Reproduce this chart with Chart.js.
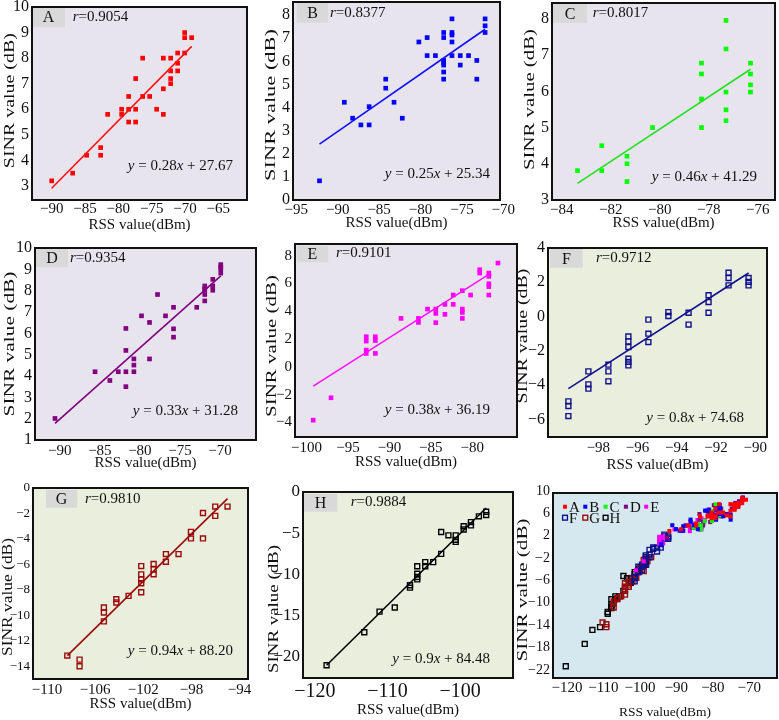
<!DOCTYPE html>
<html>
<head>
<meta charset="utf-8">
<script src="https://cdn.jsdelivr.net/npm/chart.js@4.4.1/dist/chart.umd.min.js"></script>
<style>
html,body{margin:0;padding:0;background:#fff;overflow:hidden;}
#wrap{position:relative;width:779px;height:720px;overflow:hidden;background:#fff;}
.pane{position:absolute;}
</style>
</head>
<body>
<div id="wrap"></div>
<script>
// ---------------- data ----------------

// A
const rssA  = [-90,-86.85,-84.75,-82.65,-82.65,-81.6,-79.5,-79.5,-78.45,-78.45,-78.45,-77.4,-77.4,-77.4,-76.35,-76.35,-75.3,-74.25,-73.25,-73.25,-73.25,-72.15,-72.15,-72.15,-72.15,-71.1,-71.1,-71.1,-70.05,-70.05,-70.05,-69];
const sinrA = [3.2,3.5,4.2,4.5,4.2,5.8,6.0,5.8,6.5,6.0,5.5,7.2,6.0,5.5,8.0,6.5,6.5,6.0,8.0,6.8,5.8,8.0,7.5,7.2,7.0,8.2,7.8,7.5,9.0,8.8,8.2,8.8];
const fitXA = [-90,-69];
const fitYA = [2.91,8.46];

// B
const rssB  = [-92.2,-89.2,-88.2,-87.2,-86.2,-86.2,-84.2,-84.2,-83.2,-82.2,-80.2,-79.2,-79.2,-78.2,-77.2,-77.2,-77.2,-77.2,-77.2,-77.2,-77.2,-76.2,-76.2,-76.2,-76.2,-76.2,-75.2,-75.2,-74.2,-73.2,-73.2,-72.2,-72.2,-72.2];
const sinrB = [0.83,4.23,3.54,3.25,3.25,4.04,5.23,4.84,4.23,3.54,6.84,7.03,6.25,6.25,7.25,7.03,6.04,5.94,5.84,5.54,5.23,7.84,7.25,7.14,6.84,6.25,6.25,5.84,6.25,6.04,5.23,7.84,7.54,7.25];
const fitXB = [-92.2,-72.2];
const fitYB = [2.42,7.39];

// C
const rssC  = [-83.36,-82.37,-82.37,-81.34,-81.34,-81.34,-80.3,-78.3,-78.3,-78.3,-78.3,-77.3,-77.3,-77.3,-77.3,-77.3,-76.3,-76.3,-76.3,-76.3];
const sinrC = [3.81,4.5,3.81,4.21,4.0,3.51,5.0,6.78,6.48,5.79,5.0,7.96,7.17,5.98,5.49,5.19,6.78,6.48,6.18,5.98];
const fitXC = [-83.36,-76.3];
const fitYC = [3.46,6.61];

// D
const rssD  = [-90.6,-85.6,-83.75,-82.7,-81.75,-81.75,-81.75,-81.75,-80.75,-80.75,-80.75,-79.8,-78.8,-78.8,-77.8,-76.8,-75.8,-75.8,-75.8,-72.9,-71.9,-71.9,-71.9,-71.9,-71.9,-70.9,-70.9,-70.9,-69.9,-69.9,-69.9,-69.9];
const sinrD = [2.01,4.2,3.79,4.2,6.23,5.2,4.2,3.5,4.8,4.51,4.2,6.82,6.51,4.8,7.82,6.82,7.22,6.21,5.82,7.22,8.22,8.1,8.02,7.82,7.52,8.53,8.22,8.02,9.22,9.1,9.02,8.82];
const fitXD = [-90.6,-69.9];
const fitYD = [1.78,8.69];

// E
const rssE  = [-99.2,-97.05,-92.8,-92.8,-92.8,-92.8,-91.7,-91.7,-91.7,-88.6,-86.5,-86.5,-85.4,-84.4,-84.4,-84.4,-83.3,-83.3,-82.3,-82.3,-81.2,-81.2,-81.2,-81.2,-80.2,-79.1,-79.1,-78.0,-78.0,-78.0,-78.0,-78.0,-76.9];
const sinrE = [-3.83,-2.22,2.17,1.86,1.21,0.97,2.17,1.9,0.97,3.49,3.49,3.2,4.16,4.16,3.85,3.18,4.5,3.78,5.17,4.5,5.48,4.16,3.92,3.49,5.17,6.99,6.75,6.75,6.51,5.98,5.77,5.17,7.47];
const fitXE = [-99.2,-78.0];
const fitYE = [-1.38,6.66];

// F
const rssF  = [-99.53,-99.53,-99.53,-98.51,-98.51,-98.51,-97.49,-97.49,-97.49,-96.47,-96.47,-96.47,-96.47,-96.47,-96.47,-95.45,-95.45,-95.45,-94.43,-94.43,-93.4,-93.4,-92.38,-92.38,-92.38,-91.36,-91.36,-91.36,-90.34,-90.34,-90.34];
const sinrF = [-4.95,-5.22,-5.81,-3.2,-3.96,-4.21,-2.81,-3.2,-3.78,-1.16,-1.45,-1.78,-2.46,-2.65,-2.85,-0.18,-1.0,-1.49,0.26,0.03,0.22,-0.47,1.24,0.85,0.22,2.56,2.25,1.82,2.25,2.02,1.82];
const fitXF = [-99.53,-90.34];
const fitYF = [-4.21,2.54];

// G
const rssG  = [-108.31,-107.29,-107.29,-105.27,-105.27,-105.27,-104.24,-104.24,-103.22,-102.17,-102.17,-102.17,-102.17,-102.17,-101.14,-101.14,-101.14,-100.12,-100.12,-99.07,-98.04,-98.04,-97.04,-97.04,-96.02,-96.02,-95.0];
const sinrG = [-13.16,-13.48,-14.0,-9.38,-9.78,-10.48,-8.73,-8.99,-8.47,-6.13,-6.78,-7.17,-7.48,-8.19,-5.97,-6.39,-6.78,-5.19,-5.79,-5.19,-3.44,-3.96,-1.96,-3.96,-1.46,-2.19,-1.46];
const fitXG = [-108.31,-95.0];
const fitYG = [-13.16,-0.83];

// H
const rssH  = [-118.4,-113.2,-111.1,-109.0,-106.9,-106.9,-105.9,-105.9,-105.9,-105.9,-104.8,-104.8,-103.7,-102.6,-102.6,-101.6,-100.6,-100.6,-100.6,-99.5,-99.5,-98.5,-98.5,-97.4,-96.4,-96.4];
const sinrH = [-21.0,-17.0,-14.5,-14.0,-11.3,-11.6,-9.0,-9.9,-10.3,-10.6,-8.5,-9.0,-8.5,-7.5,-4.85,-5.25,-5.25,-5.8,-6.05,-4.15,-4.55,-3.65,-4.05,-2.95,-2.4,-2.8];
const fitXH = [-118.4,-96.4];
const fitYH = [-21.0,-1.94];

// tick labels
const xTicksA = [-90,-85,-80,-75,-70,-65];
const yTicksA = [3,4,5,6,7,8,9,10];
const xTicksB = [-95,-90,-85,-80,-75,-70];
const yTicksB = [0,1,2,3,4,5,6,7,8];
const xTicksC = [-84,-82,-80,-78,-76];
const yTicksC = [3,4,5,6,7,8];
const xTicksD = [-90,-85,-80,-75,-70];
const yTicksD = [1,2,3,4,5,6,7,8,9,10];
const xTicksE = [-100,-95,-90,-85,-80];
const yTicksE = [-4,-2,0,2,4,6,8];
const xTicksF = [-98,-96,-94,-92,-90];
const yTicksF = [-6,-4,-2,0,2,4];
const xTicksG = [-110,-106,-102,-98,-94];
const yTicksG = [-14,-12,-10,-8,-6,-4,-2,0];
const xTicksH = [-120,-110,-100];
const yTicksH = [-20,-15,-10,-5,0];
const xTicksAll = [-120,-110,-100,-90,-80,-70];
const yTicksAll = [-22,-18,-14,-10,-6,-2,2,6,10];

// panel texts
const rTexts  = ['r=0.9054','r=0.8377','r=0.8017','r=0.9354','r=0.9101','r=0.9712','r=0.9810','r=0.9884'];
const eqTexts = ['y = 0.28x + 27.67','y = 0.25x + 25.34','y = 0.46x + 41.29','y = 0.33x + 31.28',
                 'y = 0.38x + 36.19','y = 0.8x + 74.68','y = 0.94x + 88.20','y = 0.9x + 84.48'];

// ---------------- layout / style ----------------

const SERIF = '"Liberation Serif","Times New Roman",serif';
const LAV = '#e8e4ee';
const GRN = '#eaeedd';
const BLU = '#d6e8ef';
const PAD_T = 8, PAD_R = 16;

// ytl: [title centre x, title centre y, title length] in page pixels
const panels = [
  {name:'A', rss:rssA, sinr:sinrA, fx:fitXA, fy:fitYA, xt:xTicksA, yt:yTicksA, color:'#ff0000', line:'#ff1010', hollow:false, bg:LAV,
   plot:[32,7,247,200], yw:33, xh:34, xr:[-92.95,-60.7], yr:[2.45,10], xp:0, ytl:[10,100.7,135],
   box:[0,0,33,20], rPos:[40.7,9.7], eqPos:[14,34.3]},
  {name:'B', rss:rssB, sinr:sinrB, fx:fitXB, fy:fitYB, xt:xTicksB, yt:yTicksB, color:'#0000ff', line:'#1010ff', hollow:false, bg:LAV,
   plot:[293,2,500,200], yw:33, xh:32, xr:[-95.4,-70.4], yr:[0,8.57], xp:1, ytl:[271,105,152],
   box:[3.7,0.7,31.6,20], rPos:[37,11.3], eqPos:[10,25.7]},
  {name:'C', rss:rssC, sinr:sinrC, fx:fitXC, fy:fitYC, xt:xTicksC, yt:yTicksC, color:'#00ff00', line:'#22e022', hollow:false, bg:LAV,
   plot:[552,3,775,200], yw:33, xh:32, xr:[-84.4,-75.3], yr:[3,8.44], xp:1, ytl:[530,99.5,141],
   box:[1,1,34,19], rPos:[40.7,9.7], eqPos:[18,23.3]},
  {name:'D', rss:rssD, sinr:sinrD, fx:fitXD, fy:fitYD, xt:xTicksD, yt:yTicksD, color:'#800080', line:'#800080', hollow:false, bg:LAV,
   plot:[35,248,256,440], yw:36, xh:32, xr:[-93.1,-65.5], yr:[1,10], xp:2, ytl:[10,344,145],
   box:[1,0,32,19], rPos:[35,9.7], eqPos:[18,29.3]},
  {name:'E', rss:rssE, sinr:sinrE, fx:fitXE, fy:fitYE, xt:xTicksE, yt:yTicksE, color:'#ff00ff', line:'#ff10ff', hollow:false, bg:LAV,
   plot:[295,244,517,437], yw:34, xh:34, xr:[-101.4,-74.6], yr:[-5.04,8.84], xp:2, yf:15, ytl:[272,346,142],
   box:[1.7,1.7,31.6,16.6], rPos:[41,9.3], eqPos:[27,27]},
  {name:'F', rss:rssF, sinr:sinrF, fx:fitXF, fy:fitYF, xt:xTicksF, yt:yTicksF, color:'#10108c', line:'#10108c', hollow:true, bg:GRN,
   plot:[548,248,767,437], yw:31, xh:37, xr:[-100.57,-89.4], yr:[-7.03,4], xp:2, ytl:[523,336,135],
   box:[2,1,32.7,18.7], rPos:[48,9.7], eqPos:[23,19.3]},
  {name:'G', rss:rssG, sinr:sinrG, fx:fitXG, fy:fitYG, xt:xTicksG, yt:yTicksG, color:'#9a0a0a', line:'#9a0a0a', hollow:true, bg:GRN,
   plot:[33,488,248,679], yw:34, xh:34, xr:[-111.16,-93.3], yr:[-15,0], xp:2, yf:13, ytl:[8,597,118],
   box:[13,2,31.3,17.7], rPos:[52,11], eqPos:[15,28.3]},
  {name:'H', rss:rssH, sinr:sinrH, fx:fitXH, fy:fitYH, xt:xTicksH, yt:yTicksH, color:'#000000', line:'#000000', hollow:true, bg:GRN,
   plot:[303,492,513,678], yw:40, xh:41, xr:[-121.65,-92.7], yr:[-22.55,0], xp:2, xf:20, yf:17, ytl:[274,609,128],
   box:[1,2,33.3,17.7], rPos:[47.7,10.3], eqPos:[23,18.7]}
];

const overview = {name:'I', xt:xTicksAll, yt:yTicksAll, bg:BLU,
  plot:[553,493,777,678], yw:36, xh:43, xr:[-121.9,-60.5], yr:[-23.1,10], xp:1, xf:15, yf:14, xtf:13.5, xlo:7, ylo:-2,
  ytl:[523,590,143]};

// ---------------- helpers ----------------

function fmt(v){
  return v < 0 ? '\u2212' + Math.abs(v) : String(v);
}

function pts(xs, ys){
  return xs.map((x,i)=>({x:x, y:ys[i]}));
}

// text with italic x, y, r
function richParts(str){
  return str.split(/([xyr])/).filter(s=>s.length).map(s=>({t:s, it:/^[xyr]$/.test(s)}));
}

function drawRich(ctx, str, x, y, align, size){
  const parts = richParts(str);
  const fontN = size + 'px ' + SERIF;
  const fontI = 'italic ' + size + 'px ' + SERIF;
  let total = 0;
  parts.forEach(p=>{
    ctx.font = p.it ? fontI : fontN;
    p.w = ctx.measureText(p.t).width;
    total += p.w;
  });
  let cx = align === 'right' ? x - total : x;
  ctx.textAlign = 'left';
  ctx.textBaseline = 'middle';
  parts.forEach(p=>{
    ctx.font = p.it ? fontI : fontN;
    ctx.fillText(p.t, cx, y);
    cx += p.w;
  });
}

const decor = {
  id:'decor',
  beforeDraw(chart, args, o){
    const a = chart.chartArea, ctx = chart.ctx;
    ctx.save();
    ctx.fillStyle = o.bg;
    ctx.fillRect(a.left, a.top, a.right-a.left, a.bottom-a.top);
    ctx.restore();
  },
  afterDraw(chart, args, o){
    const a = chart.chartArea, ctx = chart.ctx;
    ctx.save();

    // y title, stretched along its length like the original
    const t = o.ytl;
    const tx = a.left + (t[0] - o.plot[0]);
    const ty = a.top + (t[1] - o.plot[1]);
    ctx.save();
    ctx.translate(tx, ty);
    ctx.rotate(-Math.PI/2);
    ctx.font = '15px ' + SERIF;
    const w = ctx.measureText('SINR value (dB)').width;
    ctx.scale(t[2]/w, 1);
    ctx.fillStyle = '#111';
    ctx.textAlign = 'center';
    ctx.textBaseline = 'middle';
    ctx.fillText('SINR value (dB)', 0, 0);
    ctx.restore();

    if(o.box){
      ctx.fillStyle = '#d9d9d9';
      ctx.fillRect(a.left+o.box[0], a.top+o.box[1], o.box[2], o.box[3]);
      ctx.fillStyle = '#111';
      ctx.font = '16px ' + SERIF;
      ctx.textAlign = 'center';
      ctx.textBaseline = 'middle';
      ctx.fillText(o.letter, a.left+o.box[0]+o.box[2]/2, a.top+o.box[1]+o.box[3]/2+1);
      drawRich(ctx, o.r, a.left+o.rPos[0], a.top+o.rPos[1], 'left', 15);
      drawRich(ctx, o.eq, a.right-o.eqPos[0], a.bottom-o.eqPos[1], 'right', 15);
    }
    if(o.legend){
      chart.data.datasets.forEach((ds,i)=>{
        const row = i < 5 ? 0 : 1;
        const col = i < 5 ? i : i-5;
        const mx = a.left + 12 + col*20.3;
        const my = a.top + 13.7 + row*11;
        if(ds.borderWidth > 0){
          ctx.strokeStyle = ds.borderColor;
          ctx.lineWidth = 1.4;
          ctx.strokeRect(mx-2.4, my-2.4, 4.8, 4.8);
        } else {
          ctx.fillStyle = ds.backgroundColor;
          ctx.fillRect(mx-2, my-2, 4, 4);
        }
        ctx.fillStyle = '#111';
        ctx.font = '15px ' + SERIF;
        ctx.textAlign = 'left';
        ctx.textBaseline = 'middle';
        ctx.fillText(ds.label, mx+4, my+1);
      });
    }
    ctx.strokeStyle = '#111';
    ctx.lineWidth = 2;
    ctx.strokeRect(a.left, a.top, a.right-a.left, a.bottom-a.top);
    ctx.restore();
  }
};

function buildChart(p, datasets, decorOpts){

  const wrap = document.getElementById('wrap');
  const plotW = p.plot[2]-p.plot[0];
  const plotH = p.plot[3]-p.plot[1];
  const W = p.yw + plotW + PAD_R;
  const H = PAD_T + plotH + p.xh;

  const div = document.createElement('div');
  div.className = 'pane';
  div.style.left = (p.plot[0]-p.yw) + 'px';
  div.style.top = (p.plot[1]-PAD_T) + 'px';
  div.style.width = W + 'px';
  div.style.height = H + 'px';
  const cv = document.createElement('canvas');
  cv.width = W;
  cv.height = H;
  div.appendChild(cv);
  wrap.appendChild(div);

  decorOpts.plot = p.plot;
  decorOpts.ytl = p.ytl;

  return new Chart(cv,{
    type:'scatter',
    data:{datasets:datasets},
    plugins:[decor],
    options:{
      responsive:false,
      animation:false,
      events:[],
      layout:{padding:{left:0, top:PAD_T, right:PAD_R, bottom:0}},
      plugins:{
        legend:{display:false},
        tooltip:{enabled:false},
        decor:decorOpts
      },
      scales:{
        x:{
          type:'linear',
          position:'bottom',
          min:p.xr[0],
          max:p.xr[1],
          afterBuildTicks:s=>{ s.ticks = p.xt.map(v=>({value:v})); },
          afterFit:s=>{ s.height = p.xh; s.paddingLeft = 0; s.paddingRight = 0; },
          grid:{display:false, drawTicks:false, tickLength:0},
          border:{display:false},
          ticks:{
            color:'#111',
            padding:p.xp,
            autoSkip:false,
            maxRotation:0,
            minRotation:0,
            labelOffset:p.xlo || 0,
            font:{family:SERIF, size:p.xf || 15},
            callback:v=>fmt(v)
          },
          title:{
            display:true,
            text:'RSS value(dBm)',
            color:'#111',
            padding:0,
            font:{family:SERIF, size:p.xtf || 15}
          }
        },
        y:{
          type:'linear',
          position:'left',
          min:p.yr[0],
          max:p.yr[1],
          afterBuildTicks:s=>{ s.ticks = p.yt.map(v=>({value:v})); },
          afterFit:s=>{ s.width = p.yw; s.paddingTop = 0; s.paddingBottom = 0; },
          grid:{display:false, drawTicks:false, tickLength:0},
          border:{display:false},
          ticks:{
            color:'#111',
            padding:3,
            autoSkip:false,
            labelOffset:p.ylo || 0,
            font:{family:SERIF, size:p.yf || 16},
            callback:v=>fmt(v)
          },
          title:{display:false}
        }
      }
    }
  });
}

// ---------------- single panels ----------------

panels.forEach((p,i)=>{

  const datasets = [
    {
      label:'fit',
      data:pts(p.fx, p.fy),
      showLine:true,
      borderColor:p.line,
      borderWidth:1.6,
      pointRadius:0,
      fill:false
    },
    {
      label:p.name,
      data:pts(p.rss, p.sinr),
      pointStyle:'rect',
      pointRadius:p.hollow ? 3.5 : 3.3,
      backgroundColor:p.hollow ? 'rgba(0,0,0,0)' : p.color,
      borderColor:p.color,
      borderWidth:p.hollow ? 1.4 : 0
    }
  ];

  buildChart(p, datasets, {
    bg:p.bg,
    letter:p.name,
    box:p.box,
    r:rTexts[i],
    eq:eqTexts[i],
    rPos:p.rPos,
    eqPos:p.eqPos
  });

});

// ---------------- overview panel ----------------

const allSets = panels.map(p=>({
  label:p.name,
  data:pts(p.rss, p.sinr),
  pointStyle:'rect',
  pointRadius:p.hollow ? 3.5 : 2.9,
  backgroundColor:p.hollow ? 'rgba(0,0,0,0)' : p.color,
  borderColor:p.color,
  borderWidth:p.hollow ? 1.4 : 0
}));

buildChart(overview, allSets, {bg:overview.bg, legend:true});
</script>
</body>
</html>
